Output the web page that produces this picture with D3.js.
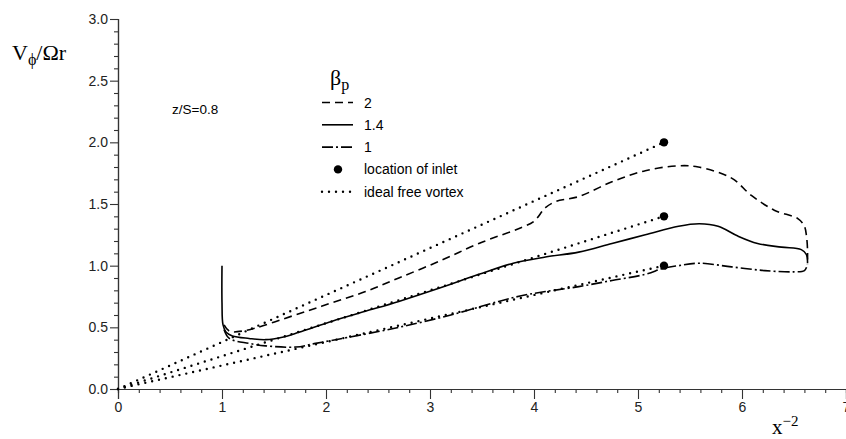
<!DOCTYPE html>
<html>
<head>
<meta charset="utf-8">
<script src="https://cdn.jsdelivr.net/npm/d3@7"></script>
<style>
  body { margin: 0; background: #fff; }
  svg { display: block; }
  .tick text { font-family: "Liberation Sans", Arial, sans-serif; font-size: 14px; fill: #222; }
</style>
</head>
<body>
<svg id="chart" width="846" height="439"></svg>
<script>
// beta_p = 2 (dashed)
const beta2 = [
  [1.02, 0.52], [1.07, 0.47], [1.2, 0.47], [1.74, 0.61], [2.06, 0.70], [2.38, 0.79],
  [2.7, 0.90], [3.1, 1.04], [3.47, 1.18], [3.88, 1.31], [4.0, 1.36], [4.11, 1.47],
  [4.21, 1.52], [4.43, 1.56], [4.75, 1.68], [5.07, 1.77], [5.39, 1.81], [5.58, 1.80],
  [5.9, 1.71], [6.09, 1.57], [6.31, 1.45], [6.54, 1.38], [6.6, 1.32], [6.62, 1.24],
  [6.63, 1.13], [6.63, 1.05]
];
// beta_p = 1.4 (solid)
const beta14 = [
  [1.0, 1.0], [1.0, 0.7], [1.01, 0.52], [1.04, 0.46], [1.1, 0.43], [1.26, 0.41],
  [1.42, 0.40], [1.58, 0.42], [1.74, 0.46], [2.06, 0.55], [2.38, 0.63], [2.7, 0.71],
  [3.1, 0.82], [3.47, 0.93], [3.8, 1.02], [4.11, 1.07], [4.43, 1.11], [4.75, 1.18],
  [5.07, 1.25], [5.39, 1.32], [5.59, 1.34], [5.77, 1.32], [5.96, 1.24], [6.15, 1.18],
  [6.38, 1.15], [6.57, 1.13], [6.62, 1.09], [6.63, 1.02]
];
// beta_p = 1 (dash-dot)
const beta1 = [
  [1.02, 0.48], [1.07, 0.41], [1.26, 0.37], [1.42, 0.35], [1.71, 0.34], [1.9, 0.37],
  [2.22, 0.42], [2.7, 0.50], [3.2, 0.60], [3.66, 0.71], [3.9, 0.76], [4.11, 0.79],
  [4.43, 0.83], [4.75, 0.88], [5.07, 0.93], [5.25, 0.98], [5.39, 1.0], [5.59, 1.02],
  [5.9, 0.99], [6.22, 0.96], [6.5, 0.95], [6.6, 0.96], [6.63, 1.01]
];
// location of inlet
const inlets = [[5.25, 2.0], [5.25, 1.4], [5.25, 1.0]];
const origin = [0, 0];

const xMajor = [0, 1, 2, 3, 4, 5, 6, 7];
const yMajor = [0.0, 0.5, 1.0, 1.5, 2.0, 2.5, 3.0];

const legendItems = [
  { label: "2", style: "dash" },
  { label: "1.4", style: "solid" },
  { label: "1", style: "dashdot" },
  { label: "location of inlet", style: "dot" },
  { label: "ideal free vortex", style: "dotted" }
];

const styles = {
  dash: { dash: "8,5", width: 1.6, cap: "butt" },
  solid: { dash: null, width: 1.6, cap: "butt" },
  dashdot: { dash: "11,3,2,3", width: 1.6, cap: "butt" },
  dotted: { dash: "0,7", width: 2.4, cap: "round" }
};

const svg = d3.select("#chart");
const x = d3.scaleLinear().domain([0, 7]).range([118, 846]);
const y = d3.scaleLinear().domain([0, 3]).range([389, 19]);

const serif = "'Liberation Serif', 'Times New Roman', serif";
const sans = "'Liberation Sans', Arial, sans-serif";

// axes
const xMinor = d3.range(0, 7.01, 0.2).map(v => +v.toFixed(1)).filter(v => !xMajor.includes(v));
const yMinor = d3.range(0, 3.01, 0.1).map(v => +v.toFixed(1)).filter(v => !yMajor.includes(v));

const gx = svg.append("g").attr("transform", `translate(0,${y(0)})`);
gx.call(d3.axisBottom(x).tickValues(xMajor).tickSize(10).tickPadding(3).tickFormat(d3.format("d")));
gx.append("g").call(d3.axisBottom(x).tickValues(xMinor).tickSize(4).tickFormat(""));

const gy = svg.append("g").attr("transform", `translate(${x(0)},0)`);
gy.call(d3.axisLeft(y).tickValues(yMajor).tickSize(8).tickPadding(2).tickFormat(d3.format(".1f")));
gy.append("g").call(d3.axisLeft(y).tickValues(yMinor).tickSize(4).tickFormat(""));

svg.selectAll(".domain").attr("stroke", "#333").attr("stroke-width", 1.2);
svg.selectAll(".tick line").attr("stroke", "#333").attr("stroke-width", 1.1);

// curves
const line = d3.line().x(d => x(d[0])).y(d => y(d[1])).curve(d3.curveCatmullRom.alpha(0.5));
const straight = d3.line().x(d => x(d[0])).y(d => y(d[1]));

function styled(sel, key) {
  const s = styles[key];
  sel.attr("fill", "none").attr("stroke", "#000")
    .attr("stroke-width", s.width).attr("stroke-linecap", s.cap);
  if (s.dash) sel.attr("stroke-dasharray", s.dash);
  return sel;
}

const plot = svg.append("g");

// ideal free vortex lines
inlets.forEach(p => {
  styled(plot.append("path").attr("d", straight([origin, p])), "dotted");
});

styled(plot.append("path").datum(beta2).attr("d", line), "dash");
styled(plot.append("path").datum(beta14).attr("d", line), "solid");
styled(plot.append("path").datum(beta1).attr("d", line), "dashdot");

plot.selectAll("circle.inlet").data(inlets).enter().append("circle")
  .attr("class", "inlet")
  .attr("cx", d => x(d[0])).attr("cy", d => y(d[1])).attr("r", 4.2).attr("fill", "#000");

// axis titles
const yl = svg.append("text").attr("x", 12).attr("y", 60)
  .attr("font-family", serif).attr("font-size", 22).attr("fill", "#000");
yl.append("tspan").text("V");
yl.append("tspan").attr("dy", 5).attr("font-size", 16).text("ϕ");
yl.append("tspan").attr("dy", -5).text("/Ωr");

const xl = svg.append("text").attr("x", 772).attr("y", 434)
  .attr("font-family", serif).attr("font-size", 21).attr("fill", "#000");
xl.append("tspan").text("x");
xl.append("tspan").attr("dy", -8).attr("font-size", 15).text("−2");

svg.append("text").attr("x", 172).attr("y", 114)
  .attr("font-family", sans).attr("font-size", 13.5).attr("fill", "#000")
  .text("z/S=0.8");

// legend
const bt = svg.append("text").attr("x", 330).attr("y", 85)
  .attr("font-family", serif).attr("font-size", 22).attr("fill", "#000");
bt.append("tspan").text("β");
bt.append("tspan").attr("dy", 5).attr("font-size", 16).text("p");

const lg = svg.append("g");
legendItems.forEach((it, i) => {
  const cy = 102.5 + i * 22.3;
  if (it.style === "dot") {
    lg.append("circle").attr("cx", 338).attr("cy", cy).attr("r", 4.2).attr("fill", "#000");
  } else {
    styled(lg.append("line").attr("x1", 322).attr("x2", 353).attr("y1", cy).attr("y2", cy), it.style);
  }
  lg.append("text").attr("x", 364).attr("y", cy + 5)
    .attr("font-family", sans).attr("font-size", 14).attr("fill", "#000")
    .text(it.label);
});
</script>
</body>
</html>
